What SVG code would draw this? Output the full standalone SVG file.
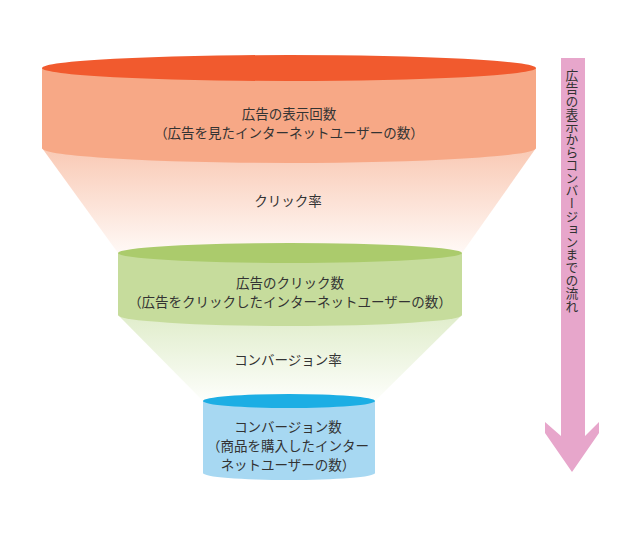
<svg xmlns="http://www.w3.org/2000/svg" width="621" height="534" viewBox="0 0 621 534">
<style>
.t{font-family:"Noto Sans CJK JP","Noto Sans CJK SC",sans-serif;font-size:13.5px;fill:#333333;text-anchor:middle}
.v{font-family:"Noto Sans CJK JP","Noto Sans CJK SC",sans-serif;font-size:12.8px;fill:#333333;writing-mode:vertical-rl}
</style>
<defs>
<linearGradient id="g1" x1="0" y1="0" x2="0" y2="1">
<stop offset="0" stop-color="#F9C9B4"/>
<stop offset="1" stop-color="#FFF9F6"/>
</linearGradient>
<linearGradient id="g2" x1="0" y1="0" x2="0" y2="1">
<stop offset="0" stop-color="#E0EDCB"/>
<stop offset="1" stop-color="#FDFEFB"/>
</linearGradient>
</defs>
<rect width="621" height="534" fill="#ffffff"/>
<g id="connectors">
<polygon id="funnel1" points="42,148 536,148 462,253 118,253" fill="url(#g1)"/>
<polygon id="funnel2" points="118,315 462,315 375,401 203,401" fill="url(#g2)"/>
</g>
<g id="node-impressions">
<path d="M42,68 L536,68 L536,148 A247,15 0 0 1 42,148 Z" fill="#F7A886"/>
<ellipse cx="289" cy="68" rx="247" ry="13" fill="#F15A2E"/>
<text class="t" x="289" y="118.5">広告の表示回数</text>
<text class="t" x="289" y="138">（広告を見たインターネットユーザーの数）</text>
</g>
<g id="label-ctr">
<text class="t" x="288" y="206">クリック率</text>
</g>
<g id="node-clicks">
<path d="M118,253 L462,253 L462,315 A172,11 0 0 1 118,315 Z" fill="#C6DC9C"/>
<ellipse cx="290" cy="253" rx="172" ry="10" fill="#ABCB6C"/>
<text class="t" x="290" y="287.5">広告のクリック数</text>
<text class="t" x="290" y="306.5">（広告をクリックしたインターネットユーザーの数）</text>
</g>
<g id="label-cvr">
<text class="t" x="288" y="365">コンバージョン率</text>
</g>
<g id="node-conversions">
<path d="M203,401 L375,401 L375,473 A86,7 0 0 1 203,473 Z" fill="#A7D8F2"/>
<ellipse cx="289" cy="401" rx="86" ry="7" fill="#1CAEE4"/>
<text class="t" x="288" y="432">コンバージョン数</text>
<text class="t" x="288" y="451">（商品を購入したインター</text>
<text class="t" x="288" y="470">ネットユーザーの数）</text>
</g>
<g id="flow-arrow">
<polygon points="561,58 585,58 585,436 599,422 599,433 572,472 545,433 545,422 561,436" fill="#E7A6CB"/>
<text class="v" x="572" y="69">広告の表示からコンバージョンまでの流れ</text>
</g>
</svg>
